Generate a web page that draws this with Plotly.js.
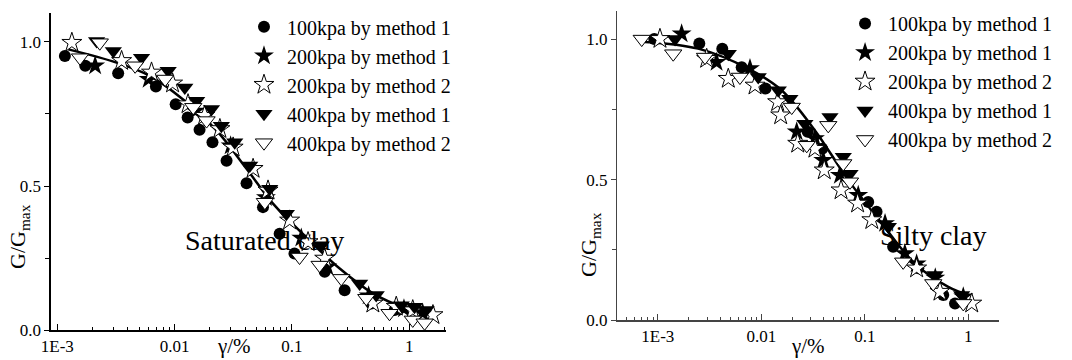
<!DOCTYPE html>
<html>
<head>
<meta charset="utf-8">
<script src="https://cdn.plot.ly/plotly-3.0.1.min.js"></script>
<style>html,body{margin:0;padding:0;background:#fff;}#chart{width:1072px;height:360px;}</style>
</head>
<body>
<div id="chart"></div>
<script>
// ---------- Saturated clay (left panel) ----------
const sat100m1_x = [0.00116, 0.00173, 0.0033, 0.00692, 0.0102, 0.0129, 0.0163, 0.021, 0.0277, 0.041, 0.0566, 0.0785, 0.105, 0.19, 0.281, 0.474, 0.75];
const sat100m1_y = [0.951, 0.917, 0.891, 0.845, 0.784, 0.738, 0.695, 0.652, 0.588, 0.51, 0.427, 0.335, 0.266, 0.203, 0.139, 0.093, 0.07];
const sat200m1_x = [0.0021, 0.006, 0.015, 0.03, 0.06, 0.12, 0.2, 0.45, 0.9, 1.3];
const sat200m1_y = [0.917, 0.87, 0.76, 0.64, 0.46, 0.32, 0.22, 0.12, 0.075, 0.06];
const sat200m2_x = [0.00133, 0.00353, 0.00635, 0.0096, 0.013, 0.018, 0.0243, 0.0315, 0.0466, 0.0625, 0.0955, 0.137, 0.19, 0.489, 0.774, 1.07, 1.59];
const sat200m2_y = [0.997, 0.934, 0.894, 0.856, 0.784, 0.744, 0.698, 0.634, 0.56, 0.485, 0.381, 0.306, 0.249, 0.093, 0.082, 0.07, 0.053];
const sat400m1_x = [0.00216, 0.003, 0.00522, 0.0088, 0.0122, 0.0154, 0.0206, 0.025, 0.0325, 0.0436, 0.0646, 0.0895, 0.178, 0.377, 0.522, 0.853, 1.107, 1.39];
const sat400m1_y = [1.003, 0.968, 0.945, 0.90, 0.842, 0.796, 0.767, 0.709, 0.652, 0.571, 0.491, 0.404, 0.295, 0.162, 0.122, 0.087, 0.082, 0.07];
const sat400m2_x = [0.0023, 0.00156, 0.0046, 0.0083, 0.0144, 0.0187, 0.0587, 0.116, 0.172, 0.263, 0.43, 0.678, 1.07, 1.35];
const sat400m2_y = [0.997, 0.945, 0.917, 0.871, 0.773, 0.727, 0.444, 0.254, 0.226, 0.18, 0.111, 0.059, 0.036, 0.026];
const satFit_x = [0.00124, 0.0032, 0.00615, 0.0118, 0.0228, 0.041, 0.0689, 0.132, 0.255, 0.489, 0.942, 1.64];
const satFit_y = [0.974, 0.928, 0.882, 0.80, 0.692, 0.56, 0.439, 0.323, 0.214, 0.128, 0.076, 0.053];

// ---------- Silty clay (right panel) ----------
const sil100m1_x = [0.000925, 0.00252, 0.0042, 0.00647, 0.011, 0.0281, 0.0388, 0.108, 0.13, 0.188, 0.329, 0.573, 0.745];
const sil100m1_y = [1.0, 0.984, 0.966, 0.90, 0.824, 0.67, 0.61, 0.42, 0.385, 0.261, 0.184, 0.089, 0.059];
const sil200m1_x = [0.0017, 0.0037, 0.00778, 0.022, 0.033, 0.0397, 0.0575, 0.0865, 0.157, 0.244, 0.317, 0.48, 0.895];
const sil200m1_y = [1.019, 0.918, 0.895, 0.67, 0.646, 0.569, 0.515, 0.444, 0.344, 0.237, 0.20, 0.15, 0.083];
const sil200m2_x = [0.00105, 0.00297, 0.0048, 0.0087, 0.0144, 0.0154, 0.0225, 0.033, 0.0406, 0.059, 0.0853, 0.117, 0.317, 0.533, 1.08];
const sil200m2_y = [1.001, 0.93, 0.859, 0.835, 0.776, 0.729, 0.628, 0.61, 0.533, 0.462, 0.415, 0.356, 0.184, 0.101, 0.059];
const sil400m1_x = [0.00147, 0.0048, 0.00935, 0.0146, 0.0189, 0.0264, 0.0461, 0.062, 0.072, 0.169, 0.477, 0.863];
const sil400m1_y = [1.0, 0.948, 0.865, 0.818, 0.788, 0.699, 0.723, 0.581, 0.521, 0.332, 0.16, 0.089];
const sil400m2_x = [0.0007, 0.00141, 0.00286, 0.00622, 0.0197, 0.0275, 0.0444, 0.062, 0.072, 0.235, 0.459, 0.895];
const sil400m2_y = [1.0, 0.948, 0.936, 0.865, 0.758, 0.622, 0.693, 0.557, 0.492, 0.207, 0.13, 0.059];
const silFit_x = [0.00075, 0.00246, 0.00748, 0.0157, 0.033, 0.0693, 0.146, 0.305, 0.641, 1.0];
const silFit_y = [0.99, 0.966, 0.895, 0.818, 0.675, 0.498, 0.344, 0.201, 0.118, 0.089];

const seriesNames = ["100kpa by method 1", "200kpa by method 1", "200kpa by method 2", "400kpa by method 1", "400kpa by method 2"];
const xTickVals = [0.001, 0.01, 0.1, 1];
const xTickText = ["1E-3", "0.01", "0.1", "1"];
const yTickVals = [0, 0.5, 1.0];
const yTickText = ["0.0", "0.5", "1.0"];

const FONT = '"Liberation Serif", "Times New Roman", Times, Tinos, "DejaVu Serif", "Noto Serif", serif';
const styles = [
  {symbol: "circle", size: 12, color: "#000", line: {color: "#000", width: 0}},
  {symbol: "star", size: 15, color: "#000", line: {color: "#000", width: 0}},
  {symbol: "star", size: 15, color: "#fff", line: {color: "#000", width: 1}},
  {symbol: "triangle-down", size: 15, color: "#000", line: {color: "#000", width: 0}},
  {symbol: "triangle-down", size: 15, color: "#fff", line: {color: "#000", width: 1}}
];

function pts(xs, ys, i, xa, ya, leg) {
  return {x: xs, y: ys, type: "scatter", mode: "markers", name: seriesNames[i],
    xaxis: xa, yaxis: ya, legend: leg, marker: styles[i], cliponaxis: false};
}
function fit(xs, ys, xa, ya) {
  return {x: xs, y: ys, type: "scatter", mode: "lines", line: {color: "#000", width: 2.5, shape: "spline"},
    xaxis: xa, yaxis: ya, showlegend: false, hoverinfo: "skip"};
}

const data = [
  fit(satFit_x, satFit_y, "x", "y"),
  pts(sat100m1_x, sat100m1_y, 0, "x", "y", "legend"),
  pts(sat200m1_x, sat200m1_y, 1, "x", "y", "legend"),
  pts(sat200m2_x, sat200m2_y, 2, "x", "y", "legend"),
  pts(sat400m1_x, sat400m1_y, 3, "x", "y", "legend"),
  pts(sat400m2_x, sat400m2_y, 4, "x", "y", "legend"),
  fit(silFit_x, silFit_y, "x2", "y2"),
  pts(sil100m1_x, sil100m1_y, 0, "x2", "y2", "legend2"),
  pts(sil200m1_x, sil200m1_y, 1, "x2", "y2", "legend2"),
  pts(sil200m2_x, sil200m2_y, 2, "x2", "y2", "legend2"),
  pts(sil400m1_x, sil400m1_y, 3, "x2", "y2", "legend2"),
  pts(sil400m2_x, sil400m2_y, 4, "x2", "y2", "legend2")
];

function xax(domain, range, anchor, col) {
  return {type: "log", domain: domain, range: range, anchor: anchor,
    showgrid: false, zeroline: false, showline: true, linecolor: col, linewidth: 1.5,
    ticks: "inside", ticklen: 6, tickwidth: 1, tickcolor: col,
    tickvals: xTickVals, ticktext: xTickText,
    tickfont: {family: FONT, size: 17, color: "#000"},
    minor: {ticks: "inside", ticklen: 3, tickcolor: col, tickwidth: 1, dtick: "D1", showgrid: false}};
}
function yax(domain, anchor, col) {
  return {domain: domain, range: [0, 1.1], anchor: anchor,
    showgrid: false, zeroline: false, showline: true, linecolor: col, linewidth: 1.5,
    ticks: "outside", ticklen: 5, tickwidth: 1, tickcolor: col,
    tickvals: yTickVals, ticktext: yTickText,
    tickfont: {family: FONT, size: 17, color: "#000"},
    minor: {ticks: "outside", ticklen: 4, tickcolor: col, tickvals: [0.25, 0.75]}};
}

const legendBase = {bgcolor: "rgba(0,0,0,0)", borderwidth: 0, xanchor: "left", yanchor: "top",
  font: {family: FONT, size: 20, color: "#000"}, tracegroupgap: 0, itemwidth: 36};

function ann(text, px, py, size, angle) {
  return {text: text, xref: "paper", yref: "paper", x: px / 1072, y: 1 - py / 360,
    xanchor: "center", yanchor: "middle", showarrow: false, textangle: angle || 0,
    font: {family: FONT, size: size, color: "#000"}};
}

const layout = {
  width: 1072, height: 360,
  margin: {l: 0, r: 0, t: 0, b: 0},
  paper_bgcolor: "#fff", plot_bgcolor: "rgba(0,0,0,0)",
  font: {family: FONT, color: "#000"},
  xaxis: xax([0.04757, 0.41576], [-3.054, 0.31], "y", "#000"),
  yaxis: yax([0.0825, 0.9639], "x", "#000"),
  xaxis2: xax([0.57584, 0.93190], [-3.391, 0.297], "y2", "#444"),
  yaxis2: yax([0.1111, 0.9694], "x2", "#444"),
  legend: Object.assign({}, legendBase, {x: 0.2248, y: 0.98}),
  legend2: Object.assign({}, legendBase, {x: 0.7855, y: 0.989}),
  annotations: [
    ann("Saturated clay", 264, 241, 28),
    ann("Silty clay", 933, 235, 28),
    ann("G/G<sub>max</sub>", 19, 237, 22, -90),
    ann("G/G<sub>max</sub>", 590, 245, 22, -90),
    ann("γ/%", 234, 346, 21),
    ann("γ/%", 808, 346, 21)
  ]
};

Plotly.newPlot("chart", data, layout, {displayModeBar: false, staticPlot: true});
</script>
</body>
</html>
